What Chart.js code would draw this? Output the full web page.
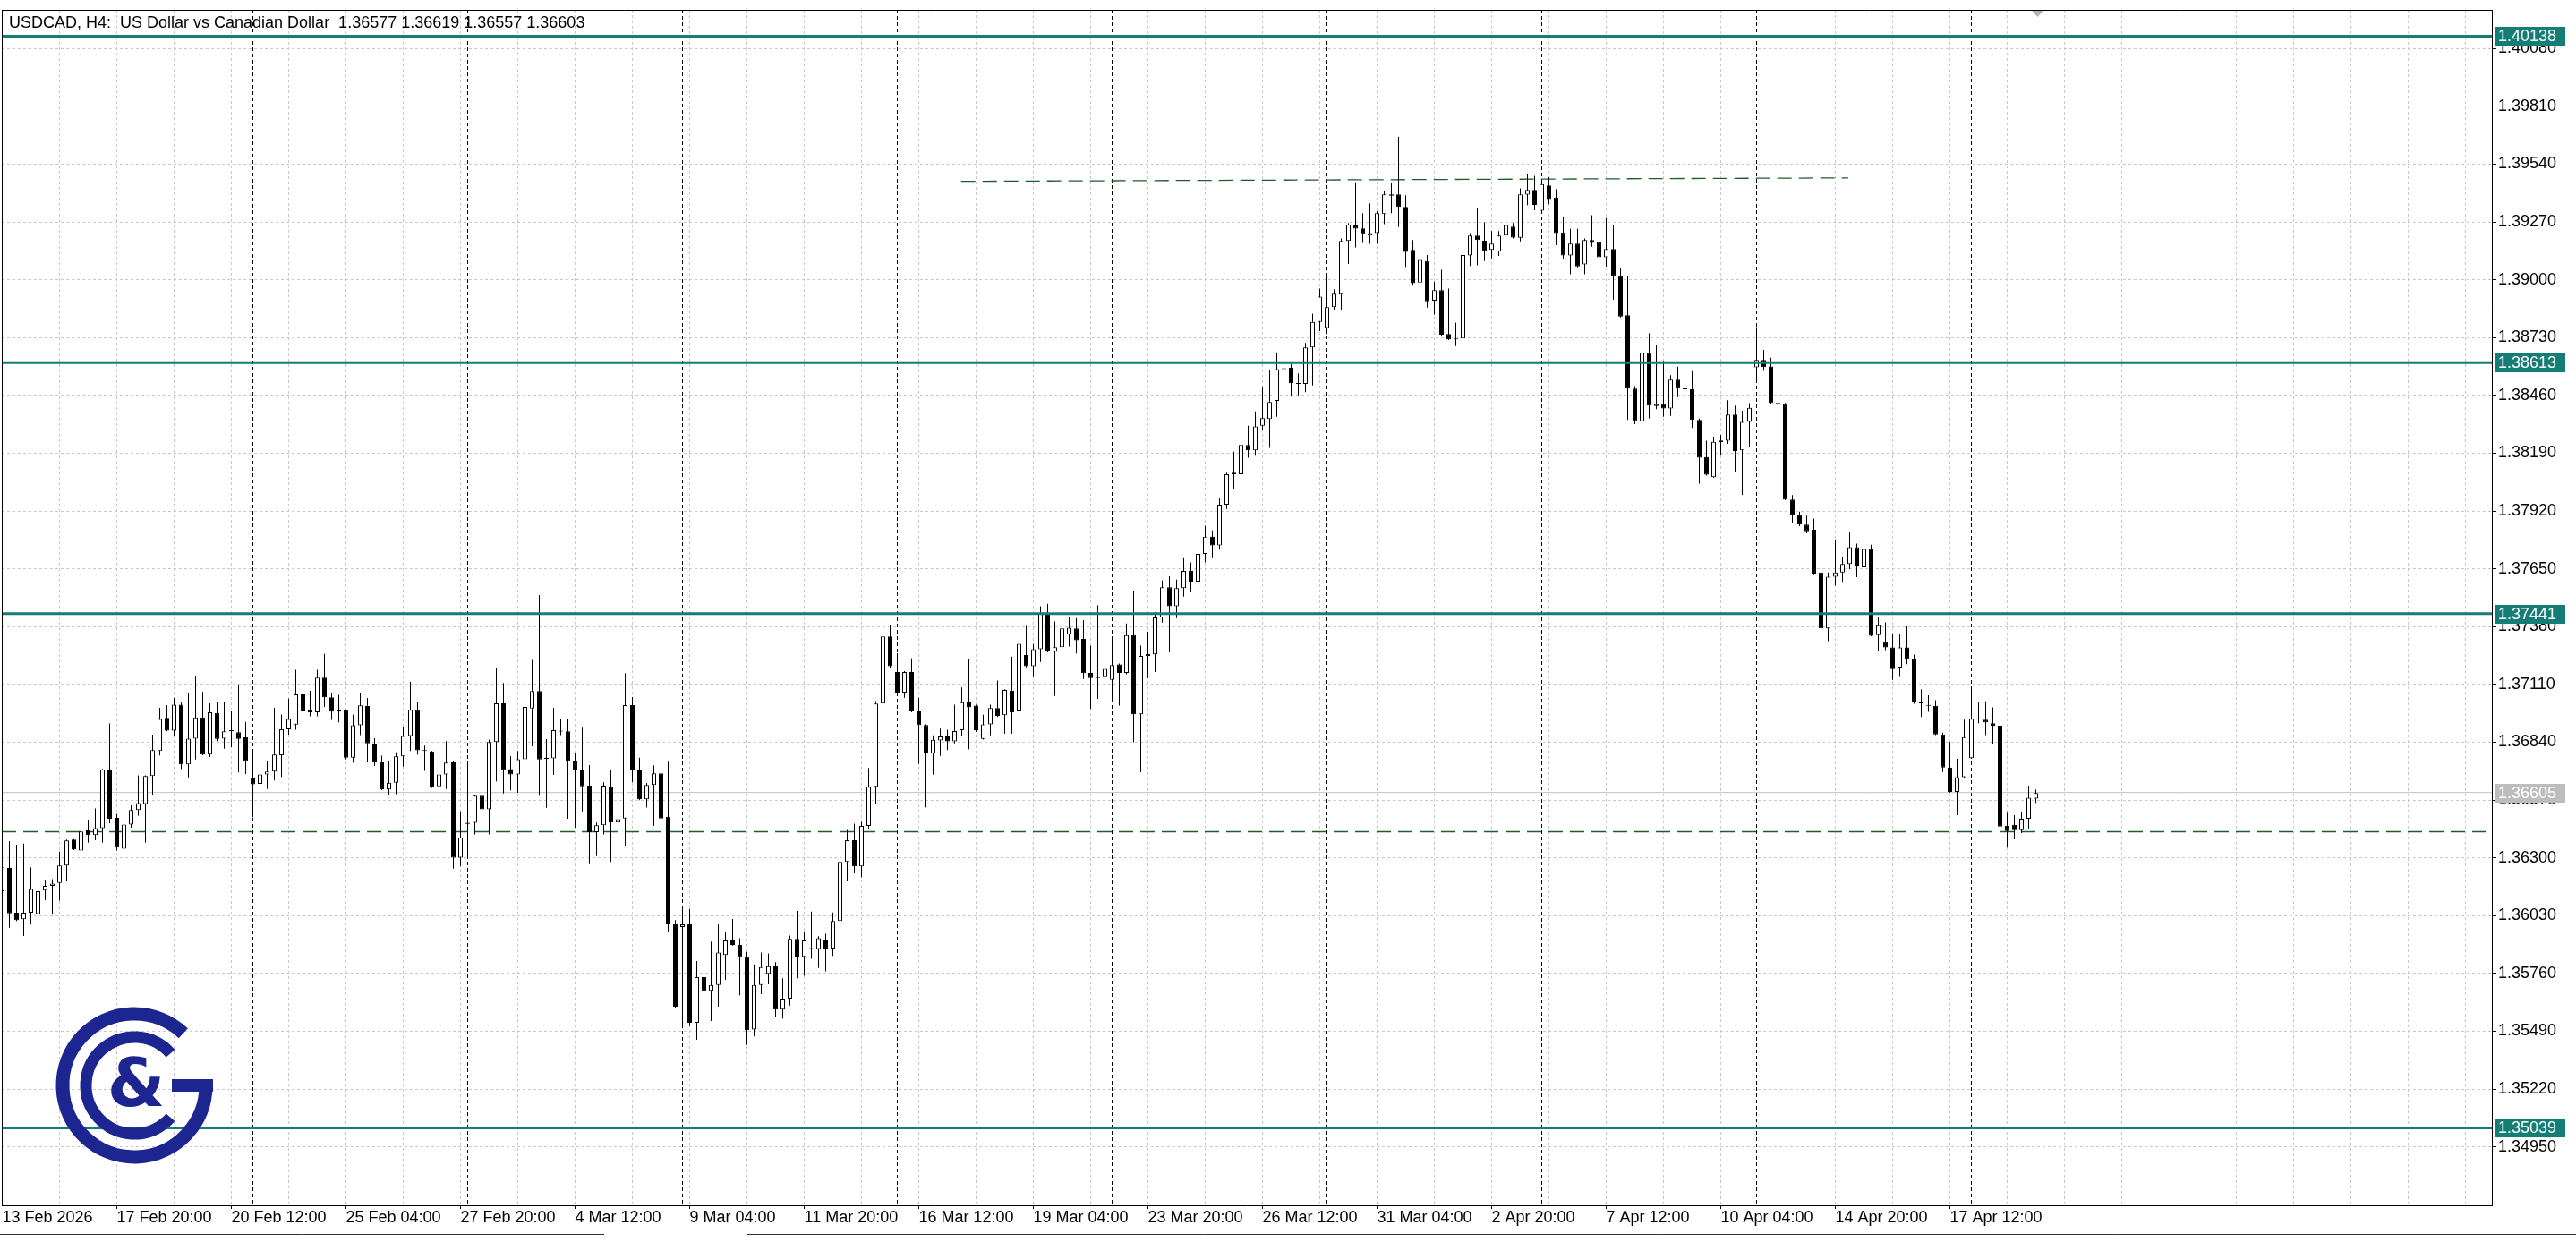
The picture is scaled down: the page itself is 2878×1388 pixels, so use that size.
<!DOCTYPE html>
<html>
<head>
<meta charset="utf-8">
<title>USDCAD, H4</title>
<script src="https://cdn.jsdelivr.net/npm/chart.js@4.4.1/dist/chart.umd.min.js"></script>
<style>
  html, body { margin: 0; padding: 0; background: #ffffff; }
  #wrap { width: 2878px; height: 1388px; }
</style>
</head>
<body>
<div id="wrap"><canvas id="chart" width="2878" height="1388"></canvas></div>
<script>
// H4 bars, bar 1 = 13 Feb 2026 04:00
const firstBar = 1;

const openPrices = [
  1.36144, 1.36253, 1.36044, 1.36013, 1.36044, 1.36037, 1.36147, 1.36169, 1.36183, 1.36264,
  1.36385, 1.36334, 1.36428, 1.36406, 1.36439, 1.36713, 1.36487, 1.36343, 1.36455, 1.36523,
  1.36552, 1.36682, 1.36799, 1.36954, 1.36894, 1.37016, 1.36736, 1.36857, 1.36956, 1.36782,
  1.36977, 1.36857, 1.36891, 1.36887, 1.36863, 1.36671, 1.36646, 1.36690, 1.36703, 1.36779,
  1.36901, 1.36922, 1.37064, 1.36988, 1.36980, 1.37142, 1.37050, 1.36983, 1.36991, 1.36768,
  1.36919, 1.37009, 1.36835, 1.36746, 1.36619, 1.36651, 1.36774, 1.36869, 1.36991, 1.36802,
  1.36797, 1.36634, 1.36690, 1.36746, 1.36301, 1.36459, 1.36464, 1.36590, 1.36527, 1.36841,
  1.37022, 1.36715, 1.36690, 1.36761, 1.36998, 1.37079, 1.36763, 1.36765, 1.36894, 1.36891,
  1.36754, 1.36713, 1.36637, 1.36420, 1.36452, 1.36632, 1.36465, 1.36484, 1.37013, 1.36712,
  1.36573, 1.36640, 1.36695, 1.36492, 1.35989, 1.35977, 1.35989, 1.35530, 1.35743, 1.35679,
  1.35706, 1.35846, 1.35914, 1.35893, 1.35838, 1.35498, 1.35706, 1.35759, 1.35794, 1.35591,
  1.35642, 1.35921, 1.35838, 1.35874, 1.35874, 1.35918, 1.35877, 1.36005, 1.36281, 1.36382,
  1.36260, 1.36449, 1.36632, 1.37021, 1.37334, 1.37168, 1.37072, 1.37168, 1.36984, 1.36920,
  1.36787, 1.36848, 1.36867, 1.36844, 1.36896, 1.37027, 1.37011, 1.36856, 1.36924, 1.37000,
  1.36966, 1.37080, 1.36984, 1.37248, 1.37195, 1.37275, 1.37443, 1.37263, 1.37284, 1.37343,
  1.37372, 1.37323, 1.37164, 1.37142, 1.37144, 1.37131, 1.37204, 1.37164, 1.37340, 1.36971,
  1.37243, 1.37251, 1.37423, 1.37564, 1.37475, 1.37560, 1.37640, 1.37590, 1.37720, 1.37800,
  1.37760, 1.37950, 1.38092, 1.38092, 1.38229, 1.38204, 1.38319, 1.38350, 1.38434, 1.38583,
  1.38590, 1.38517, 1.38514, 1.38684, 1.38803, 1.38775, 1.38872, 1.38931, 1.39182, 1.39254,
  1.39240, 1.39207, 1.39218, 1.39307, 1.39399, 1.39399, 1.39340, 1.39140, 1.38987, 1.39088,
  1.38903, 1.38952, 1.38747, 1.38722, 1.38726, 1.39114, 1.39207, 1.39183, 1.39140, 1.39132,
  1.39207, 1.39249, 1.39196, 1.39398, 1.39420, 1.39323, 1.39441, 1.39384, 1.39221, 1.39114,
  1.39169, 1.39072, 1.39186, 1.39175, 1.39105, 1.39144, 1.39019, 1.38835, 1.38492, 1.38339,
  1.38659, 1.38410, 1.38420, 1.38399, 1.38534, 1.38492, 1.38489, 1.38346, 1.38172, 1.38078,
  1.38241, 1.38248, 1.38371, 1.38204, 1.38336, 1.38591, 1.38626, 1.38595, 1.38425, 1.38421,
  1.37974, 1.37901, 1.37857, 1.37833, 1.37633, 1.37372, 1.37613, 1.37633, 1.37673, 1.37751,
  1.37657, 1.37743, 1.37340, 1.37307, 1.37283, 1.37189, 1.37283, 1.37229, 1.37026, 1.37012,
  1.37010, 1.36877, 1.36722, 1.36608, 1.36677, 1.36766, 1.36950, 1.36945, 1.36929, 1.36917,
  1.36449, 1.36454, 1.36429, 1.36483, 1.36577
];

const highPrices = [
  1.36274, 1.36378, 1.36361, 1.36367, 1.36256, 1.36256, 1.36194, 1.36200, 1.36329, 1.36385,
  1.36388, 1.36441, 1.36478, 1.36531, 1.36716, 1.36928, 1.36506, 1.36478, 1.36545, 1.36685,
  1.36685, 1.36876, 1.37001, 1.37013, 1.37047, 1.37026, 1.37068, 1.37147, 1.37075, 1.37022,
  1.37030, 1.37030, 1.36984, 1.37110, 1.36935, 1.36799, 1.36746, 1.36754, 1.37001, 1.36970,
  1.37044, 1.37178, 1.37096, 1.37080, 1.37178, 1.37253, 1.37068, 1.37061, 1.36994, 1.36969,
  1.37068, 1.37047, 1.36859, 1.36777, 1.36754, 1.36793, 1.36910, 1.37122, 1.37026, 1.36824,
  1.36799, 1.36775, 1.36845, 1.36750, 1.36517, 1.36752, 1.36594, 1.36869, 1.36852, 1.37189,
  1.37117, 1.36775, 1.36799, 1.37105, 1.37224, 1.37528, 1.36855, 1.37001, 1.36949, 1.36949,
  1.36792, 1.36908, 1.36733, 1.36465, 1.36653, 1.36709, 1.36508, 1.37163, 1.37051, 1.36768,
  1.36650, 1.36732, 1.36720, 1.36749, 1.36009, 1.36073, 1.36060, 1.35818, 1.35786, 1.35909,
  1.35989, 1.35953, 1.36014, 1.35925, 1.35861, 1.35802, 1.35858, 1.35854, 1.35813, 1.35738,
  1.35937, 1.36052, 1.35957, 1.36049, 1.35934, 1.35945, 1.36045, 1.36340, 1.36430, 1.36460,
  1.36468, 1.36720, 1.37032, 1.37415, 1.37388, 1.37256, 1.37172, 1.37232, 1.37048, 1.36924,
  1.36872, 1.36904, 1.36899, 1.37016, 1.37096, 1.37228, 1.37015, 1.36968, 1.37016, 1.37128,
  1.37088, 1.37240, 1.37375, 1.37383, 1.37299, 1.37475, 1.37487, 1.37404, 1.37443, 1.37427,
  1.37420, 1.37411, 1.37291, 1.37479, 1.37287, 1.37327, 1.37208, 1.37395, 1.37548, 1.37291,
  1.37356, 1.37447, 1.37595, 1.37615, 1.37600, 1.37700, 1.37680, 1.37760, 1.37850, 1.37830,
  1.37980, 1.38099, 1.38197, 1.38248, 1.38318, 1.38385, 1.38499, 1.38577, 1.38661, 1.38608,
  1.38608, 1.38563, 1.38705, 1.38842, 1.38959, 1.39028, 1.38956, 1.39193, 1.39265, 1.39455,
  1.39311, 1.39357, 1.39321, 1.39416, 1.39451, 1.39669, 1.39395, 1.39186, 1.39120, 1.39116,
  1.38991, 1.39047, 1.38959, 1.38800, 1.39151, 1.39218, 1.39335, 1.39268, 1.39228, 1.39228,
  1.39263, 1.39265, 1.39427, 1.39493, 1.39486, 1.39458, 1.39479, 1.39423, 1.39293, 1.39238,
  1.39238, 1.39193, 1.39302, 1.39270, 1.39288, 1.39256, 1.39056, 1.39015, 1.38503, 1.38666,
  1.38750, 1.38694, 1.38622, 1.38555, 1.38594, 1.38615, 1.38573, 1.38352, 1.38248, 1.38267,
  1.38276, 1.38438, 1.38413, 1.38388, 1.38424, 1.38779, 1.38673, 1.38636, 1.38522, 1.38425,
  1.37995, 1.37917, 1.37898, 1.37885, 1.37665, 1.37633, 1.37782, 1.37703, 1.37820, 1.37768,
  1.37885, 1.37763, 1.37426, 1.37400, 1.37345, 1.37345, 1.37381, 1.37250, 1.37088, 1.37059,
  1.37036, 1.36885, 1.36841, 1.36763, 1.36945, 1.37096, 1.37026, 1.37031, 1.37003, 1.36982,
  1.36511, 1.36499, 1.36514, 1.36637, 1.36619
];

const lowPrices = [
  1.36130, 1.35974, 1.36005, 1.35935, 1.35988, 1.35988, 1.36102, 1.36037, 1.36100, 1.36190,
  1.36336, 1.36264, 1.36371, 1.36382, 1.36371, 1.36462, 1.36334, 1.36322, 1.36441, 1.36497,
  1.36371, 1.36594, 1.36778, 1.36892, 1.36869, 1.36715, 1.36676, 1.36760, 1.36779, 1.36771,
  1.36845, 1.36810, 1.36817, 1.36699, 1.36692, 1.36490, 1.36604, 1.36622, 1.36661, 1.36678,
  1.36876, 1.36898, 1.36963, 1.36961, 1.36961, 1.37005, 1.36944, 1.36933, 1.36760, 1.36745,
  1.36873, 1.36746, 1.36729, 1.36616, 1.36593, 1.36598, 1.36726, 1.36799, 1.36782, 1.36706,
  1.36627, 1.36623, 1.36622, 1.36250, 1.36260, 1.36301, 1.36409, 1.36423, 1.36409, 1.36657,
  1.36601, 1.36615, 1.36604, 1.36671, 1.36821, 1.36590, 1.36534, 1.36687, 1.36873, 1.36483,
  1.36441, 1.36517, 1.36270, 1.36308, 1.36409, 1.36281, 1.36158, 1.36353, 1.36653, 1.36569,
  1.36535, 1.36449, 1.36292, 1.35953, 1.35599, 1.35514, 1.35514, 1.35450, 1.35258, 1.35538,
  1.35605, 1.35730, 1.35890, 1.35658, 1.35426, 1.35466, 1.35663, 1.35709, 1.35557, 1.35549,
  1.35610, 1.35738, 1.35749, 1.35829, 1.35786, 1.35770, 1.35842, 1.35945, 1.36190, 1.36228,
  1.36209, 1.36436, 1.36553, 1.36812, 1.37187, 1.37064, 1.37048, 1.36980, 1.36739, 1.36536,
  1.36688, 1.36776, 1.36803, 1.36835, 1.36867, 1.36808, 1.36888, 1.36852, 1.36872, 1.36958,
  1.36880, 1.36880, 1.36924, 1.37190, 1.37144, 1.37215, 1.37260, 1.37056, 1.37048, 1.37287,
  1.37255, 1.37136, 1.36996, 1.37043, 1.37040, 1.37040, 1.37011, 1.37158, 1.36840, 1.36700,
  1.37139, 1.37168, 1.37399, 1.37260, 1.37420, 1.37520, 1.37540, 1.37560, 1.37680, 1.37700,
  1.37740, 1.37930, 1.38023, 1.38025, 1.38169, 1.38179, 1.38301, 1.38215, 1.38360, 1.38454,
  1.38454, 1.38461, 1.38475, 1.38507, 1.38761, 1.38747, 1.38861, 1.38861, 1.39074, 1.39151,
  1.39172, 1.39168, 1.39168, 1.39260, 1.39311, 1.39246, 1.39060, 1.38973, 1.38984, 1.38870,
  1.38838, 1.38740, 1.38719, 1.38691, 1.38691, 1.39065, 1.39068, 1.39088, 1.39100, 1.39112,
  1.39204, 1.39193, 1.39179, 1.39349, 1.39325, 1.39316, 1.39353, 1.39162, 1.39095, 1.39026,
  1.39058, 1.39026, 1.39154, 1.39093, 1.39061, 1.38907, 1.38824, 1.38346, 1.38326, 1.38239,
  1.38353, 1.38396, 1.38360, 1.38364, 1.38452, 1.38457, 1.38308, 1.38048, 1.38085, 1.38075,
  1.38183, 1.38234, 1.38103, 1.37995, 1.38218, 1.38521, 1.38576, 1.38421, 1.38348, 1.37971,
  1.37864, 1.37849, 1.37816, 1.37620, 1.37368, 1.37312, 1.37572, 1.37589, 1.37649, 1.37611,
  1.37654, 1.37335, 1.37267, 1.37270, 1.37132, 1.37145, 1.37205, 1.37020, 1.36958, 1.36982,
  1.36873, 1.36701, 1.36605, 1.36499, 1.36673, 1.36763, 1.36929, 1.36873, 1.36831, 1.36402,
  1.36348, 1.36386, 1.36416, 1.36434, 1.36557
];

const closePrices = [
  1.36256, 1.36041, 1.36009, 1.36044, 1.36155, 1.36144, 1.36169, 1.36180, 1.36264, 1.36381,
  1.36339, 1.36423, 1.36406, 1.36439, 1.36713, 1.36483, 1.36348, 1.36455, 1.36523, 1.36556,
  1.36682, 1.36803, 1.36949, 1.36894, 1.37016, 1.36736, 1.36857, 1.36956, 1.36782, 1.36980,
  1.36856, 1.36891, 1.36896, 1.36856, 1.36752, 1.36643, 1.36690, 1.36703, 1.36782, 1.36901,
  1.36949, 1.37064, 1.36984, 1.36980, 1.37142, 1.37050, 1.36983, 1.36991, 1.36768, 1.36919,
  1.37012, 1.36835, 1.36745, 1.36619, 1.36651, 1.36774, 1.36869, 1.36991, 1.36802, 1.36799,
  1.36632, 1.36690, 1.36745, 1.36301, 1.36395, 1.36464, 1.36590, 1.36527, 1.36841, 1.37022,
  1.36710, 1.36690, 1.36761, 1.37005, 1.37079, 1.36760, 1.36768, 1.36896, 1.36890, 1.36752,
  1.36710, 1.36634, 1.36420, 1.36452, 1.36637, 1.36465, 1.36481, 1.37013, 1.36708, 1.36573,
  1.36640, 1.36695, 1.36484, 1.35989, 1.35605, 1.35989, 1.35530, 1.35743, 1.35679, 1.35706,
  1.35858, 1.35914, 1.35893, 1.35838, 1.35495, 1.35706, 1.35790, 1.35794, 1.35591, 1.35642,
  1.35921, 1.35834, 1.35914, 1.35877, 1.35925, 1.35877, 1.36005, 1.36281, 1.36382, 1.36260,
  1.36449, 1.36632, 1.37021, 1.37334, 1.37195, 1.37072, 1.37168, 1.36984, 1.36920, 1.36787,
  1.36851, 1.36867, 1.36844, 1.36892, 1.37027, 1.37004, 1.36896, 1.36924, 1.37000, 1.36963,
  1.37084, 1.36979, 1.37300, 1.37195, 1.37275, 1.37443, 1.37263, 1.37284, 1.37372, 1.37375,
  1.37316, 1.37163, 1.37140, 1.37140, 1.37183, 1.37200, 1.37164, 1.37340, 1.36971, 1.37243,
  1.37252, 1.37423, 1.37564, 1.37475, 1.37560, 1.37640, 1.37590, 1.37720, 1.37800, 1.37760,
  1.37950, 1.38092, 1.38099, 1.38229, 1.38204, 1.38315, 1.38354, 1.38429, 1.38583, 1.38587,
  1.38517, 1.38514, 1.38684, 1.38803, 1.38921, 1.38872, 1.38935, 1.39182, 1.39258, 1.39239,
  1.39214, 1.39218, 1.39311, 1.39399, 1.39393, 1.39340, 1.39130, 1.38984, 1.39093, 1.38900,
  1.38952, 1.38744, 1.38722, 1.38726, 1.39116, 1.39207, 1.39186, 1.39134, 1.39169, 1.39207,
  1.39256, 1.39197, 1.39399, 1.39420, 1.39350, 1.39447, 1.39377, 1.39218, 1.39114, 1.39169,
  1.39063, 1.39186, 1.39172, 1.39105, 1.39144, 1.39019, 1.38828, 1.38492, 1.38339, 1.38659,
  1.38413, 1.38420, 1.38399, 1.38534, 1.38492, 1.38489, 1.38346, 1.38169, 1.38090, 1.38243,
  1.38250, 1.38371, 1.38200, 1.38336, 1.38402, 1.38626, 1.38592, 1.38425, 1.38421, 1.37974,
  1.37901, 1.37857, 1.37825, 1.37628, 1.37372, 1.37613, 1.37633, 1.37673, 1.37751, 1.37660,
  1.37743, 1.37337, 1.37386, 1.37283, 1.37182, 1.37283, 1.37229, 1.37026, 1.37022, 1.37010,
  1.36877, 1.36722, 1.36608, 1.36677, 1.36864, 1.36950, 1.36948, 1.36933, 1.36917, 1.36446,
  1.36425, 1.36429, 1.36483, 1.36581, 1.36603
];

// time axis labels and the bars they sit on
const timeLabels = [
  '13 Feb 2026', '17 Feb 20:00', '20 Feb 12:00', '25 Feb 04:00', '27 Feb 20:00', '4 Mar 12:00',
  '9 Mar 04:00', '11 Mar 20:00', '16 Mar 12:00', '19 Mar 04:00', '23 Mar 20:00', '26 Mar 12:00',
  '31 Mar 04:00', '2 Apr 20:00', '7 Apr 12:00', '10 Apr 04:00', '14 Apr 20:00', '17 Apr 12:00'
];
const timeLabelBars = [1, 17, 33, 49, 65, 81, 97, 113, 129, 145, 161, 177, 193, 209, 225, 241, 257, 273];
const weekStartBars = [6, 36, 66, 96, 126, 156, 186, 216, 246, 276];

const priceTicks = [
  1.34950, 1.35220, 1.35490, 1.35760, 1.36030, 1.36300, 1.36570, 1.36840, 1.37110, 1.37380,
  1.37650, 1.37920, 1.38190, 1.38460, 1.38730, 1.39000, 1.39270, 1.39540, 1.39810, 1.40080
];

// horizontal levels and the two dashed lines
const levelPrices = [1.40138, 1.38613, 1.37441, 1.35039];
const bidPrice = 1.36605;
const lowDashPrice = 1.36422;
const topDashBars = [134.9, 258.8];
const topDashPrices = [1.39460, 1.39476];

const xMin = 0.9375, xMax = 348.6875;
const yMin = 1.34677, yMax = 1.40261;

const TEAL = '#147d75';
const DASH_GREEN = '#1f5c2a';
const FONT = '"Liberation Sans", Arial, sans-serif';

const wickData = [];
const bodyData = [];
const bodyColors = [];
openPrices.forEach((o, i) => {
  const x = firstBar + i;
  wickData.push({ x: x, y: [lowPrices[i], highPrices[i]] });
  bodyData.push({ x: x, y: [o, closePrices[i]] });
  bodyColors.push(closePrices[i] >= o ? '#ffffff' : '#000000');
});

const gridBars = [];
for (let b = 1; b <= xMax; b += 8) gridBars.push(b);
const xTickValues = Array.from(new Set(gridBars.concat(weekStartBars))).sort((a, b) => a - b);

function levelLine(price, color, width, dash, order) {
  return {
    type: 'line',
    data: [{ x: xMin, y: price }, { x: xMax, y: price }],
    borderColor: color,
    borderWidth: width,
    borderDash: dash,
    pointRadius: 0,
    order: order
  };
}

const overlay = {
  id: 'overlay',
  afterDraw(chart) {
    const ctx = chart.ctx;
    const area = chart.chartArea;
    const y = chart.scales.y;

    ctx.save();
    // frame top and left
    ctx.strokeStyle = '#000000';
    ctx.lineWidth = 1;
    ctx.beginPath();
    ctx.moveTo(area.left, Math.round(area.top) + 0.5);
    ctx.lineTo(area.right, Math.round(area.top) + 0.5);
    ctx.moveTo(area.left + 0.5, area.top);
    ctx.lineTo(area.left + 0.5, area.bottom);
    ctx.stroke();

    // bottom window line
    ctx.strokeStyle = '#333333';
    ctx.beginPath();
    ctx.moveTo(0, 1379.5); ctx.lineTo(675, 1379.5);
    ctx.moveTo(835, 1379.5); ctx.lineTo(2878, 1379.5);
    ctx.stroke();

    // title
    const n = openPrices.length - 1;
    const title = 'USDCAD, H4:  US Dollar vs Canadian Dollar  ' +
      [openPrices[n], highPrices[n], lowPrices[n], closePrices[n]].map(v => v.toFixed(5)).join(' ');
    ctx.font = '18px ' + FONT;
    ctx.fillStyle = '#000000';
    ctx.textAlign = 'left';
    ctx.textBaseline = 'middle';
    ctx.fillText(title, 10, 26);

    // shift marker
    ctx.fillStyle = '#b4b4b4';
    ctx.beginPath();
    ctx.moveTo(2270, 12); ctx.lineTo(2283, 12); ctx.lineTo(2276.5, 19);
    ctx.closePath(); ctx.fill();

    // price boxes on the axis
    const boxes = levelPrices.map(p => ({ p: p, bg: TEAL })).concat([{ p: bidPrice, bg: '#bdbdbd' }]);
    boxes.forEach(b => {
      const py = y.getPixelForValue(b.p);
      ctx.fillStyle = b.bg;
      ctx.fillRect(2787, Math.round(py) - 10, 79, 21);
      ctx.fillStyle = '#ffffff';
      ctx.fillText(b.p.toFixed(5), 2791, Math.round(py) + 1);
    });

    // logo
    const cx = 150, cy = 1213;
    ctx.strokeStyle = '#1d2590';
    ctx.fillStyle = '#1d2590';
    ctx.lineWidth = 15;
    ctx.beginPath();
    ctx.arc(cx, cy, 80, -0.26 * Math.PI, 0, true);
    ctx.stroke();
    ctx.fillRect(cx + 42, cy - 7, 46, 14);
    ctx.lineWidth = 13;
    ctx.beginPath();
    ctx.arc(cx, cy, 54, -0.23 * Math.PI, 0.23 * Math.PI, true);
    ctx.stroke();
    ctx.font = 'bold 74px "DejaVu Sans", sans-serif';
    ctx.textAlign = 'center';
    ctx.fillText('&', cx + 2, cy + 4);
    ctx.restore();
  }
};

Chart.defaults.font.family = FONT;
Chart.defaults.font.size = 18;
Chart.defaults.color = '#000000';

new Chart(document.getElementById('chart').getContext('2d'), {
  type: 'bar',
  data: {
    datasets: [
      levelLine(levelPrices[0], TEAL, 3, [], 0),
      levelLine(levelPrices[1], TEAL, 3, [], 0),
      levelLine(levelPrices[2], TEAL, 3, [], 0),
      levelLine(levelPrices[3], TEAL, 3, [], 0),
      {
        type: 'bar',
        data: bodyData,
        backgroundColor: bodyColors,
        borderColor: '#000000',
        borderWidth: 1,
        borderSkipped: false,
        barThickness: 5,
        minBarLength: 1,
        inflateAmount: 0,
        grouped: false,
        order: 1
      },
      {
        type: 'bar',
        data: wickData,
        backgroundColor: '#000000',
        borderWidth: 0,
        barThickness: 1,
        inflateAmount: 0,
        grouped: false,
        order: 2
      },
      {
        type: 'line',
        data: [{ x: topDashBars[0], y: topDashPrices[0] }, { x: topDashBars[1], y: topDashPrices[1] }],
        borderColor: DASH_GREEN,
        borderWidth: 1.3,
        borderDash: [16, 8],
        pointRadius: 0,
        order: 3
      },
      levelLine(lowDashPrice, DASH_GREEN, 1.3, [16, 8], 3),
      levelLine(bidPrice, '#c0c0c0', 1, [], 4)
    ]
  },
  options: {
    responsive: false,
    animation: false,
    events: [],
    devicePixelRatio: 1,
    layout: { padding: { left: 2, right: 4, top: 11, bottom: 6 } },
    plugins: {
      legend: { display: false },
      tooltip: { enabled: false }
    },
    scales: {
      x: {
        type: 'linear',
        offset: false,
        min: xMin,
        max: xMax,
        afterBuildTicks: s => { s.ticks = xTickValues.map(v => ({ value: v })); },
        afterFit: s => { s.height = 35; },
        ticks: {
          autoSkip: false,
          maxRotation: 0,
          minRotation: 0,
          align: 'start',
          padding: 1,
          font: { size: 18, lineHeight: 1 },
          callback: v => {
            const k = timeLabelBars.indexOf(v);
            return k >= 0 ? timeLabels[k] : '';
          }
        },
        grid: {
          offset: false,
          color: c => (c.tick && weekStartBars.includes(c.tick.value)) ? '#000000' : '#c8c8c8',
          lineWidth: 1,
          drawTicks: true,
          tickLength: 4,
          tickWidth: 1,
          tickColor: c => (c.tick && c.tick.value !== 1 && timeLabelBars.includes(c.tick.value)) ? '#000000' : 'rgba(0,0,0,0)'
        },
        border: {
          display: true,
          color: '#000000',
          width: 1,
          dash: c => (c.tick && weekStartBars.includes(c.tick.value)) ? [4, 3] : [3, 3]
        }
      },
      y: {
        type: 'linear',
        position: 'right',
        min: yMin,
        max: yMax,
        afterBuildTicks: s => { s.ticks = priceTicks.map(v => ({ value: v })); },
        afterFit: s => { s.width = 90; },
        ticks: {
          padding: 2,
          font: { size: 18, lineHeight: 1 },
          callback: v => v.toFixed(5)
        },
        grid: {
          color: '#c8c8c8',
          lineWidth: 1,
          drawTicks: true,
          tickLength: 5,
          tickWidth: 1,
          tickColor: '#000000'
        },
        border: { display: true, color: '#000000', width: 1, dash: [3, 3] }
      }
    }
  },
  plugins: [overlay]
});
</script>
</body>
</html>
